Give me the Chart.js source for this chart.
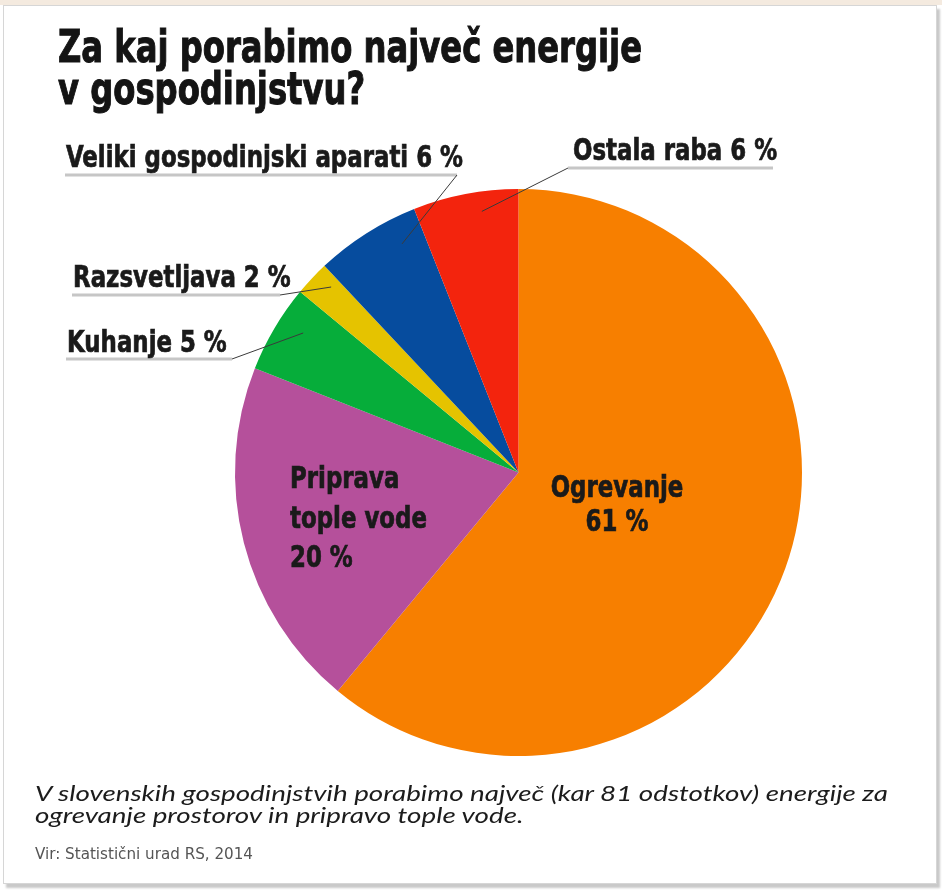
<!DOCTYPE html>
<html>
<head>
<meta charset="utf-8">
<script src="https://cdn.jsdelivr.net/npm/chart.js@4.4.0/dist/chart.umd.min.js"></script>
<style>
  body { margin: 0; width: 942px; height: 890px; overflow: hidden; position: relative; background: #fff; }
  #strip { position: absolute; left: 0; top: 0; width: 942px; height: 5px; background: #f4eadf; }
  #frame { position: absolute; left: 3px; top: 5px; width: 932px; height: 877px; border: 1px solid #d6d6d6;
           box-shadow: 3px 4px 2px #c9c9c9; background: #fff; }
  #chart { position: absolute; left: 0; top: 0; }
  .t { position: absolute; white-space: nowrap; transform-origin: 0 0; color: #141414; }
  .title { font-family: "Liberation Sans Narrow", "DejaVu Sans Condensed", Roboto, sans-serif;
           font-weight: bold; font-size: 45px; line-height: 42px; left: 58px; -webkit-text-stroke: 1px #141414; }
  .cap { font-family: Lato, "Open Sans", sans-serif; font-style: italic; font-size: 21px; line-height: 22px; left: 35px; color: #1c1c1c; }
  .src { font-family: "Liberation Sans Narrow", "DejaVu Sans Condensed", sans-serif; font-size: 15px; line-height: 17px;
         left: 35px; top: 846px; color: #555; }
</style>
</head>
<body>
<div id="strip"></div>
<div id="frame"></div>
<canvas id="chart" width="942" height="890"></canvas>
<div class="t title" id="t1" style="top:26px">Za kaj porabimo največ energije</div>
<div class="t title" id="t2" style="top:68px">v gospodinjstvu?</div>
<div class="t cap" id="c1" style="top:782px">V slovenskih gospodinjstvih porabimo največ (kar 81 odstotkov) energije za</div>
<div class="t cap" id="c2" style="top:804px">ogrevanje prostorov in pripravo tople vode.</div>
<div class="t src" id="s1">Vir: Statistični urad RS, 2014</div>

<script>
// poraba energije v gospodinjstvu, delež v %
const categories = ['Ogrevanje', 'Priprava tople vode', 'Kuhanje', 'Razsvetljava', 'Veliki gospodinjski aparati', 'Ostala raba'];
const shares = [61, 20, 5, 2, 6, 6];
const sliceColors = ['#f77f00', '#b5509b', '#06ad3a', '#e5c300', '#064c9e', '#f3240d'];

const labelFont = 'bold 30px "Liberation Sans Narrow", "DejaVu Sans Condensed", Roboto, sans-serif';

// labels inside the pie
const innerLabels = {
  0: { x: 617, y: 497, lines: ['Ogrevanje', shares[0] + ' %'], align: 'center', gap: 34 },
  1: { x: 290, y: 488, lines: ['Priprava', 'tople vode', shares[1] + ' %'], align: 'left', gap: 39.5 }
};

// labels outside, with underline and leader into the slice
const outerLabels = {
  2: { x: 67, y: 352, ul: [66, 232, 359], t: 0.63, f: 0.905 },
  3: { x: 73, y: 287, ul: [72, 280, 295], t: 0.71, f: 0.93 },
  4: { x: 66, y: 167, ul: [65, 457, 175], t: 0.75, f: 0.905 },
  5: { x: 573, y: 160, ul: [568, 773, 168], t: 0.63, f: 0.93, fromLeft: true }
};

function fitWidth(el, target) {
  const w = el.getBoundingClientRect().width;
  const s = target / w;
  el.style.transform = 'scaleX(' + s + ')';
  return s;
}
const ts = fitWidth(document.getElementById('t1'), 584);
document.getElementById('t2').style.transform = 'scaleX(' + ts + ')';
const cs = fitWidth(document.getElementById('c1'), 853);
document.getElementById('c2').style.transform = 'scaleX(' + cs + ')';
fitWidth(document.getElementById('s1'), 218);

const pieLabels = {
  id: 'pieLabels',
  afterDatasetsDraw(chart) {
    const ctx = chart.ctx;
    const arcs = chart.getDatasetMeta(0).data;
    ctx.save();
    ctx.font = labelFont;
    const sx = 397 / ctx.measureText(categories[4] + ' ' + shares[4] + ' %').width;

    function text(str, x, y, align) {
      ctx.save();
      ctx.translate(x, y);
      ctx.scale(sx, 1);
      ctx.textAlign = align;
      ctx.textBaseline = 'alphabetic';
      ctx.fillStyle = '#1a1a1a';
      ctx.strokeStyle = '#1a1a1a';
      ctx.lineWidth = 0.7;
      ctx.fillText(str, 0, 0);
      ctx.strokeText(str, 0, 0);
      ctx.restore();
    }

    Object.keys(innerLabels).forEach(k => {
      const L = innerLabels[k];
      L.lines.forEach((ln, j) => text(ln, L.x, L.y + j * L.gap, L.align));
    });

    Object.keys(outerLabels).forEach(k => {
      const L = outerLabels[k];
      const a = arcs[k].getProps(['x', 'y', 'startAngle', 'endAngle', 'outerRadius'], true);
      const ang = a.startAngle + L.t * (a.endAngle - a.startAngle);
      const px = a.x + Math.cos(ang) * a.outerRadius * L.f;
      const py = a.y + Math.sin(ang) * a.outerRadius * L.f;

      ctx.strokeStyle = '#c6c6c6';
      ctx.lineWidth = 3;
      ctx.beginPath();
      ctx.moveTo(L.ul[0], L.ul[2]);
      ctx.lineTo(L.ul[1], L.ul[2]);
      ctx.stroke();

      ctx.strokeStyle = '#3a3a3a';
      ctx.lineWidth = 1;
      ctx.beginPath();
      ctx.moveTo(L.fromLeft ? L.ul[0] : L.ul[1], L.ul[2]);
      ctx.lineTo(px, py);
      ctx.stroke();

      text(categories[k] + ' ' + shares[k] + ' %', L.x, L.y, 'left');
    });
    ctx.restore();
  }
};

new Chart(document.getElementById('chart'), {
  type: 'pie',
  data: {
    labels: categories,
    datasets: [{
      data: shares,
      backgroundColor: sliceColors,
      borderWidth: 0
    }]
  },
  options: {
    responsive: false,
    devicePixelRatio: 1,
    animation: false,
    layout: { padding: { left: 235, top: 189, right: 140, bottom: 134 } },
    plugins: {
      legend: { display: false },
      tooltip: { enabled: false }
    }
  },
  plugins: [pieLabels]
});
</script>
</body>
</html>
